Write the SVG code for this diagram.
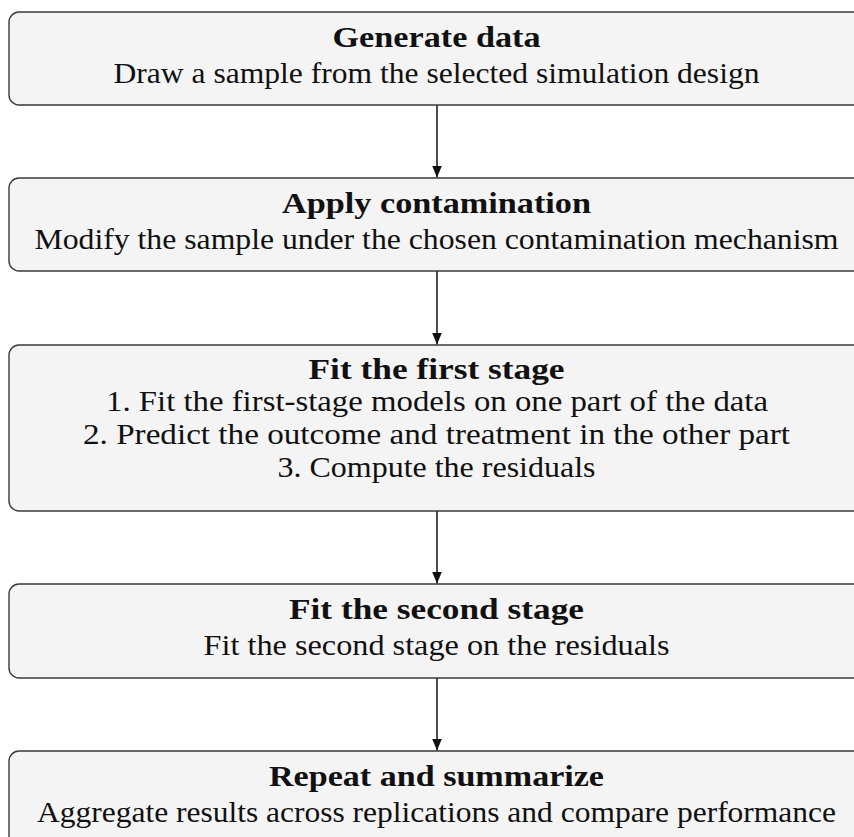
<svg xmlns="http://www.w3.org/2000/svg" width="854" height="837" viewBox="0 0 854 837">
<style>
.box{fill:#f4f4f4;stroke:#3a3a3a;stroke-width:1.4}
.t{font-family:"Liberation Serif","Times New Roman",serif;font-size:29.5px;fill:#111;text-anchor:middle}
.b{font-weight:bold}
.c{stroke:#111;stroke-width:1.5;fill:none}
</style>
<defs>
<marker id="ah" viewBox="0 0 12 11" refX="12" refY="5.5" markerWidth="12" markerHeight="11" markerUnits="userSpaceOnUse" orient="auto">
<path d="M0,0.5 L12,5.5 L0,10.5 Z" fill="#111"/>
</marker>
</defs>
<g id="connectors">
<line class="c" x1="437" y1="105" x2="437" y2="177.5" marker-end="url(#ah)"/>
<line class="c" x1="437" y1="271" x2="437" y2="344.5" marker-end="url(#ah)"/>
<line class="c" x1="437" y1="511" x2="437" y2="583.5" marker-end="url(#ah)"/>
<line class="c" x1="437" y1="678" x2="437" y2="750.5" marker-end="url(#ah)"/>
</g>
<g id="generate">
<rect class="box" x="9" y="12" width="856" height="93" rx="10"/>
<text class="t b" x="436.5" y="47" textLength="208" lengthAdjust="spacingAndGlyphs">Generate data</text>
<text class="t" x="436.5" y="83" textLength="646" lengthAdjust="spacingAndGlyphs">Draw a sample from the selected simulation design</text>
</g>
<g id="contamination">
<rect class="box" x="9" y="178" width="856" height="93" rx="10"/>
<text class="t b" x="436.5" y="213" textLength="309" lengthAdjust="spacingAndGlyphs">Apply contamination</text>
<text class="t" x="436.5" y="249" textLength="804" lengthAdjust="spacingAndGlyphs">Modify the sample under the chosen contamination mechanism</text>
</g>
<g id="first-stage">
<rect class="box" x="9" y="345" width="856" height="166" rx="10"/>
<text class="t b" x="436.5" y="379" textLength="256" lengthAdjust="spacingAndGlyphs">Fit the first stage</text>
<text class="t" x="437" y="411" textLength="662" lengthAdjust="spacingAndGlyphs">1. Fit the first-stage models on one part of the data</text>
<text class="t" x="436.5" y="444" textLength="707" lengthAdjust="spacingAndGlyphs">2. Predict the outcome and treatment in the other part</text>
<text class="t" x="436.5" y="477" textLength="318" lengthAdjust="spacingAndGlyphs">3. Compute the residuals</text>
</g>
<g id="second-stage">
<rect class="box" x="9" y="584" width="856" height="94" rx="10"/>
<text class="t b" x="436.5" y="619" textLength="295" lengthAdjust="spacingAndGlyphs">Fit the second stage</text>
<text class="t" x="436.5" y="655" textLength="466" lengthAdjust="spacingAndGlyphs">Fit the second stage on the residuals</text>
</g>
<g id="repeat">
<rect class="box" x="9" y="751" width="856" height="100" rx="10"/>
<text class="t b" x="436.5" y="786" textLength="335" lengthAdjust="spacingAndGlyphs">Repeat and summarize</text>
<text class="t" x="436.5" y="822" textLength="799" lengthAdjust="spacingAndGlyphs">Aggregate results across replications and compare performance</text>
</g>
</svg>
